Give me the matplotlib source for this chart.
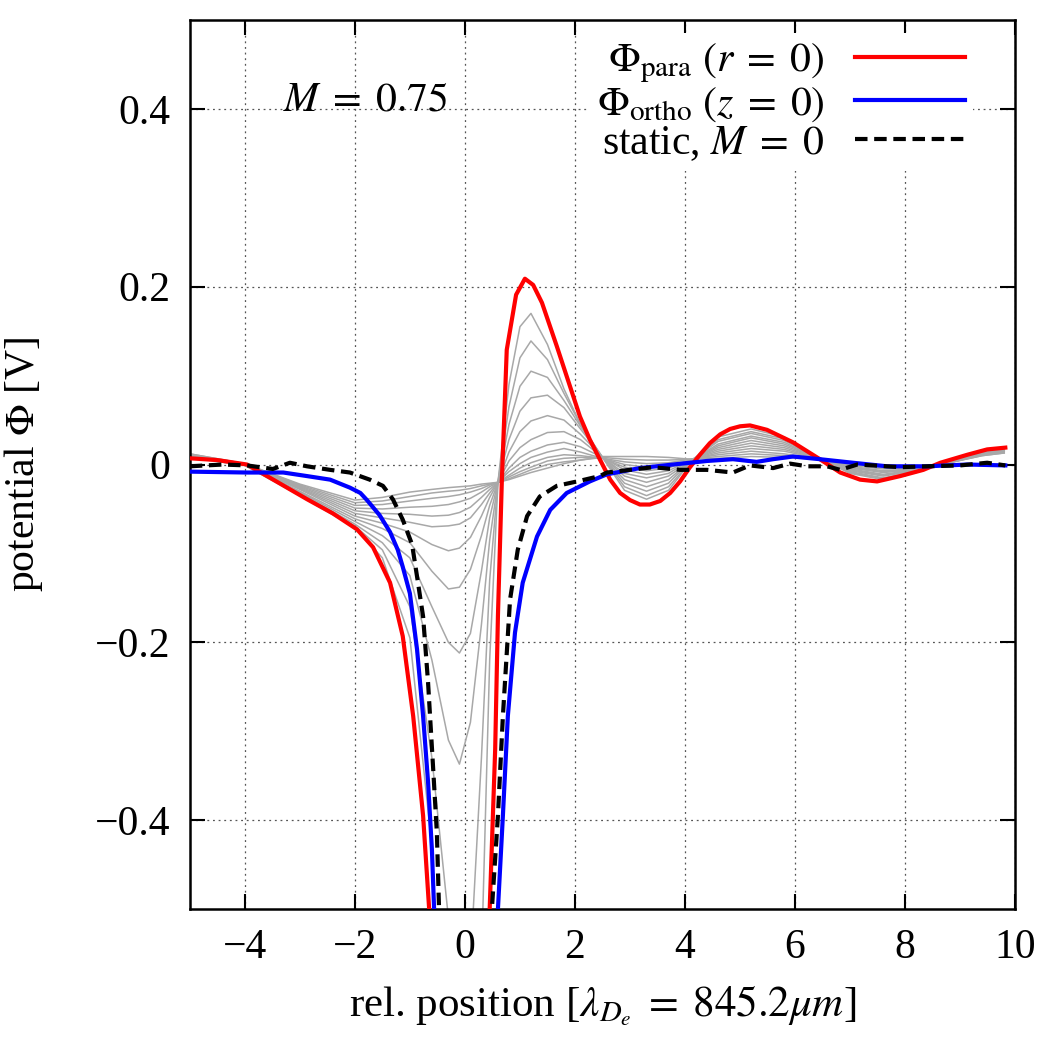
import numpy as np
import matplotlib
matplotlib.use('Agg')
import matplotlib.pyplot as plt

plt.rcParams['font.family'] = 'serif'
plt.rcParams['font.serif'] = ['Liberation Serif', 'DejaVu Serif']
plt.rcParams['mathtext.fontset'] = 'stix'

# Phi_para (r = 0)
para_x = [-5.0, -4.5, -3.96, -3.4, -2.87, -2.4, -1.96, -1.67, -1.36, -1.13, -0.94, -0.76, -0.65, -0.5,
          0.35, 0.45, 0.55, 0.6, 0.67, 0.76, 0.93, 1.09, 1.24, 1.4, 1.67, 2.09, 2.27, 2.45, 2.64, 2.82,
          3.0, 3.18, 3.36, 3.55, 3.73, 3.91, 4.09, 4.27, 4.45, 4.64, 4.82, 5.0, 5.18, 5.49, 5.96, 6.45,
          6.82, 7.18, 7.49, 7.91, 8.33, 8.64, 9.13, 9.49, 9.82]
para_y = [0.007, 0.005, 0.0, -0.02, -0.039, -0.055, -0.073, -0.093, -0.133, -0.193, -0.283, -0.395, -0.5, -0.8,
          -0.8, -0.5, -0.32, -0.17, -0.02, 0.129, 0.191, 0.209, 0.202, 0.182, 0.133, 0.054, 0.028, 0.006, -0.017, -0.032,
          -0.040, -0.045, -0.045, -0.041, -0.032, -0.019, -0.003, 0.011, 0.024, 0.034, 0.040, 0.043, 0.044, 0.039, 0.025, 0.006,
          -0.009, -0.017, -0.019, -0.013, -0.006, 0.002, 0.011, 0.017, 0.019]

# Phi_ortho (z = 0)
ortho_x = [-5.0, -3.96, -3.3, -2.87, -2.45, -2.09, -1.9, -1.78, -1.55, -1.36, -1.22, -1.13, -1.0, -0.87, -0.76, -0.67,
           -0.6, -0.56, -0.5, 0.5, 0.6, 0.69, 0.78, 0.91, 1.05, 1.31, 1.55, 1.85, 2.27, 2.58, 3.18, 3.78,
           4.4, 4.87, 5.3, 5.6, 5.96, 6.45, 7.05, 7.67, 8.4, 9.13, 9.82]
ortho_y = [-0.008, -0.009, -0.009, -0.013, -0.017, -0.026, -0.032, -0.040, -0.057, -0.076, -0.096, -0.115, -0.145, -0.208, -0.283, -0.357,
           -0.433, -0.5, -0.8, -0.8, -0.5, -0.395, -0.283, -0.189, -0.133, -0.081, -0.051, -0.032, -0.019, -0.011, -0.004, 0.0,
           0.004, 0.006, 0.003, 0.006, 0.009, 0.006, 0.002, -0.002, -0.002, 0.0, -0.001]

# static, M = 0
static_x = [-5.0, -4.4, -3.96, -3.49, -3.18, -2.87, -2.45, -2.09, -1.73, -1.49, -1.31, -1.13, -0.96, -0.87, -0.76,
            -0.67, -0.58, -0.51, -0.47, -0.4, 0.4, 0.49, 0.6, 0.69, 0.82, 0.96, 1.13, 1.36, 1.67, 2.04, 2.45,
            2.58, 3.42, 3.91, 4.4, 4.87, 5.18, 5.6, 5.91, 6.22, 6.58, 6.82, 7.13, 7.42, 7.91, 8.4, 9.0, 9.49, 9.82]
static_y = [-0.002, 0.0, -0.001, -0.005, 0.002, -0.002, -0.006, -0.009, -0.017, -0.024, -0.039, -0.062, -0.09, -0.126, -0.171,
            -0.245, -0.339, -0.414, -0.5, -0.8, -0.8, -0.5, -0.395, -0.283, -0.152, -0.096, -0.058, -0.036, -0.024, -0.019, -0.013,
            -0.009, -0.003, -0.006, -0.006, -0.009, -0.001, -0.004, 0.001, -0.002, -0.002, -0.006, 0.0, -0.001, -0.003, -0.002, -0.001, 0.002, -0.001]

# grey family of intermediate curves (shallowest first)
gray_x = [-5.0, -4.0, -3.0, -2.0, -1.5, -1.0, -0.6, -0.3, -0.1, 0.1, 0.3, 0.45, 0.6, 0.8, 1.0, 1.2, 1.5, 1.8, 2.1, 2.5,
          2.9, 3.3, 3.7, 4.1, 4.6, 5.2, 5.8, 6.5, 7.0, 7.6, 8.2, 8.8, 9.4, 9.8]
gray_y = [
    [0.012, 0.001, -0.022, -0.040, -0.037, -0.031, -0.028, -0.026, -0.025, -0.024, -0.022, -0.021,
     -0.02, -0.017, -0.013, -0.009, -0.004, 0.001, 0.005, 0.009,
     0.009, 0.009, 0.008, 0.006, 0.007, 0.009, 0.008, 0.006, 0.001, -0.003, -0.003, 0.002, 0.010, 0.013],
    [0.012, 0.001, -0.023, -0.043, -0.041, -0.036, -0.032, -0.030, -0.029, -0.027, -0.024, -0.022,
     -0.02, -0.016, -0.011, -0.006, 0.000, 0.003, 0.005, 0.008,
     0.006, 0.005, 0.005, 0.006, 0.009, 0.012, 0.010, 0.006, 0.000, -0.004, -0.004, 0.002, 0.010, 0.013],
    [0.011, 0.001, -0.024, -0.046, -0.045, -0.041, -0.038, -0.036, -0.034, -0.031, -0.027, -0.023,
     -0.02, -0.014, -0.008, -0.003, 0.004, 0.007, 0.008, 0.007,
     0.003, 0.001, 0.002, 0.006, 0.011, 0.015, 0.012, 0.006, -0.001, -0.005, -0.004, 0.002, 0.011, 0.014],
    [0.011, 0.0, -0.025, -0.049, -0.050, -0.048, -0.047, -0.045, -0.042, -0.038, -0.031, -0.025,
     -0.02, -0.012, -0.004, 0.002, 0.008, 0.011, 0.010, 0.007,
     0.000, -0.003, -0.001, 0.005, 0.013, 0.018, 0.015, 0.006, -0.002, -0.007, -0.005, 0.002, 0.011, 0.014],
    [0.010, 0.0, -0.026, -0.052, -0.055, -0.056, -0.058, -0.057, -0.054, -0.048, -0.037, -0.028,
     -0.02, -0.008, 0.001, 0.008, 0.014, 0.018, 0.014, 0.007,
     -0.003, -0.007, -0.004, 0.005, 0.015, 0.021, 0.017, 0.006, -0.003, -0.008, -0.005, 0.003, 0.011, 0.015],
    [0.010, 0.0, -0.027, -0.055, -0.060, -0.065, -0.070, -0.069, -0.067, -0.060, -0.045, -0.032,
     -0.02, -0.004, 0.008, 0.015, 0.022, 0.025, 0.020, 0.008,
     -0.006, -0.011, -0.007, 0.005, 0.017, 0.024, 0.019, 0.006, -0.004, -0.009, -0.006, 0.003, 0.012, 0.015],
    [0.010, 0.0, -0.028, -0.058, -0.066, -0.076, -0.090, -0.097, -0.094, -0.082, -0.058, -0.037,
     -0.02, 0.004, 0.019, 0.028, 0.036, 0.037, 0.028, 0.008,
     -0.010, -0.015, -0.010, 0.005, 0.019, 0.027, 0.021, 0.006, -0.005, -0.011, -0.006, 0.003, 0.012, 0.015],
    [0.009, 0.0, -0.030, -0.061, -0.072, -0.088, -0.120, -0.140, -0.138, -0.118, -0.080, -0.046,
     -0.02, 0.014, 0.037, 0.049, 0.055, 0.050, 0.034, 0.008,
     -0.013, -0.020, -0.013, 0.004, 0.021, 0.030, 0.023, 0.006, -0.006, -0.012, -0.007, 0.003, 0.012, 0.016],
    [0.009, 0.0, -0.031, -0.064, -0.080, -0.105, -0.160, -0.200, -0.212, -0.190, -0.120, -0.060,
     -0.02, 0.028, 0.060, 0.075, 0.078, 0.064, 0.040, 0.008,
     -0.017, -0.025, -0.017, 0.004, 0.023, 0.032, 0.025, 0.005, -0.007, -0.013, -0.007, 0.003, 0.013, 0.016],
    [0.008, 0.0, -0.032, -0.067, -0.088, -0.125, -0.220, -0.310, -0.337, -0.290, -0.180, -0.085,
     -0.02, 0.045, 0.088, 0.105, 0.098, 0.072, 0.043, 0.008,
     -0.021, -0.030, -0.021, 0.004, 0.026, 0.035, 0.027, 0.005, -0.008, -0.015, -0.008, 0.004, 0.013, 0.016],
    [0.008, -0.001, -0.034, -0.069, -0.096, -0.160, -0.330, -0.510, -0.700, -0.560, -0.330, -0.130,
     -0.02, 0.065, 0.120, 0.139, 0.118, 0.080, 0.045, 0.008,
     -0.025, -0.035, -0.025, 0.003, 0.028, 0.037, 0.029, 0.005, -0.009, -0.016, -0.008, 0.004, 0.013, 0.017],
    [0.008, -0.001, -0.035, -0.071, -0.105, -0.195, -0.430, -0.850, -1.100, -0.950, -0.560, -0.220,
     -0.02, 0.090, 0.155, 0.170, 0.135, 0.085, 0.045, 0.008,
     -0.029, -0.039, -0.029, 0.003, 0.031, 0.040, 0.031, 0.005, -0.010, -0.017, -0.009, 0.004, 0.014, 0.017],
]

x_ticks = [-4, -2, 0, 2, 4, 6, 8, 10]
y_ticks = [-0.4, -0.2, 0, 0.2, 0.4]
y_tick_labels = ['\u22120.4', '\u22120.2', '0', '0.2', '0.4']

fig = plt.figure(figsize=(10.37, 10.37), dpi=100)
ax = fig.add_axes([0.183, 0.1234, 0.796, 0.8573])

for gy in gray_y:
    ax.plot(gray_x, gy, color='#a8a8a8', lw=1.1, zorder=2)

ax.plot(para_x, para_y, color='#ff0000', lw=3.0, label=r'$\Phi_{\mathrm{para}}\ (r\;=\;0)$', zorder=3)
ax.plot(ortho_x, ortho_y, color='#0000ff', lw=3.0, label=r'$\Phi_{\mathrm{ortho}}\ (z\;=\;0)$', zorder=3)
ax.plot(static_x, static_y, color='black', lw=3.0, ls=(0, (3.0, 1.6)),
        label=r'static, $M\;=\;0$', zorder=3)

ax.set_xlim(-5, 10)
ax.set_ylim(-0.5, 0.5)
ax.set_xticks(x_ticks)
ax.set_xticklabels([('\u2212' if t < 0 else '') + str(abs(t)) for t in x_ticks])
ax.set_yticks(y_ticks)
ax.set_yticklabels(y_tick_labels)

ax.tick_params(direction='in', length=11, width=1.5, top=True, right=True,
               labelsize=30, pad=14)
for sp in ax.spines.values():
    sp.set_linewidth(1.8)

ax.set_axisbelow(True)
ax.grid(True, ls=(0, (1.5, 3)), color='#555555', lw=0.9)

ax.text(-3.3, 0.41, r'$M\;=\;0.75$', fontsize=30, va='center', ha='left')

ax.set_xlabel(r'rel. position [$\lambda_{D_e}\;=\;845.2\mu m$]', fontsize=31, labelpad=12)
ax.set_ylabel(r'potential $\Phi$ [V]', fontsize=30, labelpad=36)

leg = ax.legend(loc='upper right', bbox_to_anchor=(0.949, 0.985), markerfirst=False,
                fontsize=30, frameon=True, facecolor='white', edgecolor='none',
                framealpha=1.0, fancybox=False, handlelength=2.64, handletextpad=0.72,
                labelspacing=0.0, borderaxespad=0.0, borderpad=0.2)
leg.set_zorder(2.2)

fig.savefig('out.png', dpi=100)
